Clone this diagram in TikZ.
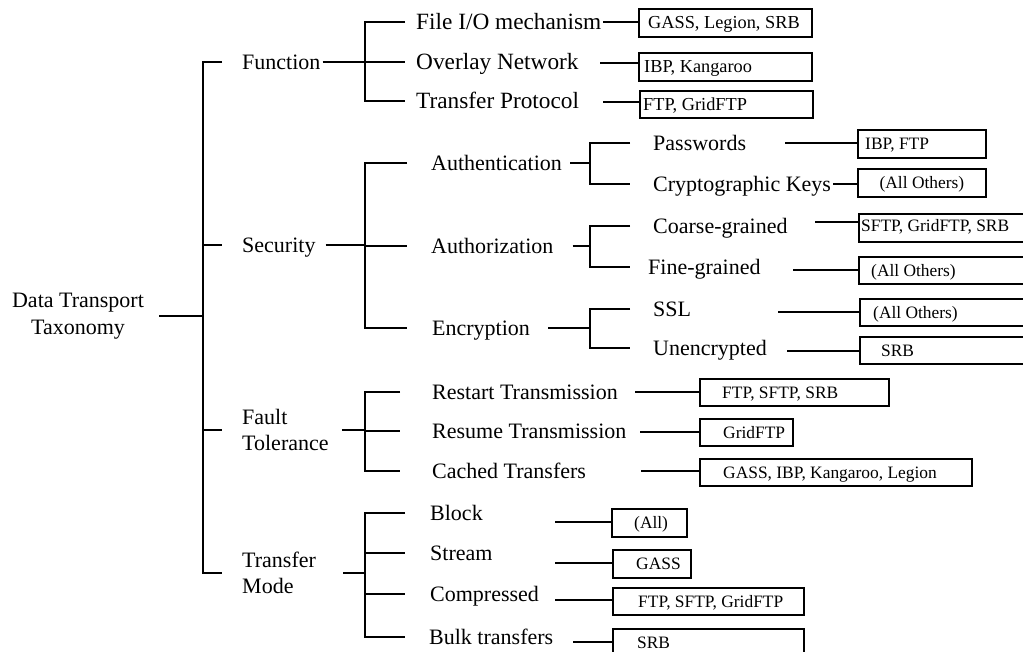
\documentclass[tikz,border=0pt]{standalone}
\usepackage{fontspec}
\setmainfont{Liberation Serif}
\begin{document}
\begin{tikzpicture}[x=1pt,y=-1pt,
  lbl/.style={inner sep=0pt, anchor=west, font=\fontsize{22}{26}\selectfont, text height=14.6pt, text depth=0pt},
  lblbig/.style={lbl, font=\fontsize{23.3}{27}\selectfont, text height=15.4pt},
  lbltwo/.style={inner sep=0pt, font=\fontsize{22}{26.5}\selectfont},
  bx/.style={draw, line width=1.8pt, inner sep=0pt, anchor=north west},
  bt/.style={inner sep=0pt, anchor=west, font=\fontsize{17.4}{20}\selectfont, text height=11.5pt, text depth=0pt},
  btbig/.style={bt, font=\fontsize{18.3}{21}\selectfont, text height=12pt},
  br/.style={line width=1.8pt},
  leaf/.style={line width=1.4pt},
]
\useasboundingbox (0,0) rectangle (1023,652);
\fill[white] (0,0) rectangle (1023,652);
\clip (0,0) rectangle (1023,652);

% ---- root and first level
\node[lbltwo, align=center] (root) at (78,316) {Data Transport\\Taxonomy};
\node[lbl] (function) at (242,62) {Function};
\node[lbl] (security) at (242,245) {Security};
\node[lbltwo, align=left, anchor=west] (fault) at (242,430) {Fault\\Tolerance};
\node[lbltwo, align=left, anchor=west] (mode) at (242,573) {Transfer\\Mode};

% ---- second level
\node[lblbig] (fio) at (416,22) {File I/O mechanism};
\node[lblbig] (overlay) at (416,62) {Overlay Network};
\node[lblbig] (tproto) at (416,101) {Transfer Protocol};
\node[lbl] (authn) at (431,163) {Authentication};
\node[lbl] (authz) at (431,246) {Authorization};
\node[lbl] (encr) at (432,328) {Encryption};
\node[lbl] (restart) at (432,392) {Restart Transmission};
\node[lbl] (resume) at (432,431) {Resume Transmission};
\node[lbl] (cached) at (432,471) {Cached Transfers};
\node[lbl] (block) at (430,513) {Block};
\node[lbl] (stream) at (430,553) {Stream};
\node[lbl] (compr) at (430,594) {Compressed};
\node[lbl] (bulk) at (429,637) {Bulk transfers};

% ---- third level
\node[lbl] (pw) at (653,143) {Passwords};
\node[lbl] (crypto) at (653,184) {Cryptographic Keys};
\node[lbl] (coarse) at (653,226) {Coarse-grained};
\node[lbl] (fine) at (648,267) {Fine-grained};
\node[lbl] (ssl) at (653,309) {SSL};
\node[lbl] (unenc) at (653,348) {Unencrypted};

% ---- boxes listing the systems
\node[bx, minimum width=173pt, minimum height=28pt] (b-fio) at (638,8) {};
\node[bx, minimum width=173pt, minimum height=28pt] (b-overlay) at (638,52) {};
\node[bx, minimum width=173pt, minimum height=27pt] (b-tproto) at (639,90) {};
\node[bx, minimum width=128pt, minimum height=28pt] (b-pw) at (857,129) {};
\node[bx, minimum width=128pt, minimum height=28pt] (b-crypto) at (857,168) {};
\node[bx, minimum width=200pt, minimum height=28pt] (b-coarse) at (858,213) {};
\node[bx, minimum width=200pt, minimum height=27pt] (b-fine) at (858,256) {};
\node[bx, minimum width=200pt, minimum height=27pt] (b-ssl) at (859,298) {};
\node[bx, minimum width=200pt, minimum height=27pt] (b-unenc) at (859,336) {};
\node[bx, minimum width=189pt, minimum height=27pt] (b-restart) at (699,378) {};
\node[bx, minimum width=93pt, minimum height=27pt] (b-resume) at (699,418) {};
\node[bx, minimum width=272pt, minimum height=27pt] (b-cached) at (699,458) {};
\node[bx, minimum width=75pt, minimum height=28pt] (b-block) at (611,508) {};
\node[bx, minimum width=78pt, minimum height=28pt] (b-stream) at (612,549) {};
\node[bx, minimum width=191pt, minimum height=27pt] (b-compr) at (612,587) {};
\node[bx, minimum width=191pt, minimum height=40pt] (b-bulk) at (612,628) {};

\node[btbig] (t-fio) at ([xshift=10pt]b-fio.west) {GASS, Legion, SRB};
\node[btbig] (t-overlay) at ([xshift=6pt]b-overlay.west) {IBP, Kangaroo};
\node[btbig] (t-tproto) at ([xshift=4pt]b-tproto.west) {FTP, GridFTP};
\node[bt] (t-pw) at ([xshift=8pt]b-pw.west) {IBP, FTP};
\node[bt, anchor=center] (t-crypto) at (b-crypto.center) {(All Others)};
\node[bt] (t-coarse) at ([xshift=3pt,yshift=2pt]b-coarse.west) {SFTP, GridFTP, SRB};
\node[bt] (t-fine) at ([xshift=13pt]b-fine.west) {(All Others)};
\node[bt] (t-ssl) at ([xshift=14pt]b-ssl.west) {(All Others)};
\node[bt] (t-unenc) at ([xshift=22pt]b-unenc.west) {SRB};
\node[bt] (t-restart) at ([xshift=23pt]b-restart.west) {FTP, SFTP, SRB};
\node[bt] (t-resume) at ([xshift=24pt]b-resume.west) {GridFTP};
\node[bt] (t-cached) at ([xshift=24pt]b-cached.west) {GASS, IBP, Kangaroo, Legion};
\node[bt] (t-block) at ([xshift=23pt]b-block.west) {(All)};
\node[bt] (t-stream) at ([xshift=24pt]b-stream.west) {GASS};
\node[bt] (t-compr) at ([xshift=26pt]b-compr.west) {FTP, SFTP, GridFTP};
\node[bt] (t-bulk) at ([xshift=25pt]b-bulk.north west) [yshift=-15pt] {SRB};

% ---- bracket spines
\coordinate (s0) at (203,0);
\coordinate (s1) at (365,0);
\coordinate (s2) at (590,0);

% root to the four main categories
\draw[br] ([xshift=15pt]root.east) -- (s0 |- root.east);
\draw[br] ([xshift=-20pt]function.west) -- (s0 |- function.west)
          -- (s0 |- mode.west) -- ([xshift=-20pt]mode.west);
\draw[br] (s0 |- security.west) -- ([xshift=-20pt]security.west);
\draw[br] (s0 |- fault.west) -- ([xshift=-20pt]fault.west);

% Function
\draw[br] ([xshift=2pt]function.east) -- (s1 |- function.east);
\draw[br] ([xshift=-11pt]fio.west) -- (s1 |- fio.west) -- (s1 |- tproto.west) -- ([xshift=-11pt]tproto.west);
\draw[br] (s1 |- overlay.west) -- ([xshift=-11pt]overlay.west);

% Security
\draw[br] ([xshift=10pt]security.east) -- (s1 |- security.east);
\draw[br] ([xshift=-24pt]authn.west) -- (s1 |- authn.west) -- (s1 |- encr.west) -- ([xshift=-25pt]encr.west);
\draw[br] (s1 |- authz.west) -- ([xshift=-24pt]authz.west);

% Fault tolerance
\draw[br] ([xshift=13pt]fault.east) -- (s1 |- fault.east);
\draw[br] ([xshift=-32pt]restart.west) -- (s1 |- restart.west) -- (s1 |- cached.west) -- ([xshift=-32pt]cached.west);
\draw[br] (s1 |- resume.west) -- ([xshift=-32pt]resume.west);

% Transfer mode
\draw[br] ([xshift=27pt]mode.east) -- (s1 |- mode.east);
\draw[br] ([xshift=-25pt]block.west) -- (s1 |- block.west) -- (s1 |- bulk.west) -- ([xshift=-24pt]bulk.west);
\draw[br] (s1 |- stream.west) -- ([xshift=-25pt]stream.west);
\draw[br] (s1 |- compr.west) -- ([xshift=-25pt]compr.west);

% Authentication / Authorization / Encryption
\draw[br] ([xshift=8pt]authn.east) -- (s2 |- authn.east);
\draw[br] ([xshift=-23pt]pw.west) -- (s2 |- pw.west) -- (s2 |- crypto.west) -- ([xshift=-23pt]crypto.west);
\draw[br] ([xshift=19pt]authz.east) -- (s2 |- authz.east);
\draw[br] ([xshift=-23pt]coarse.west) -- (s2 |- coarse.west) -- (s2 |- fine.west) -- ([xshift=-18pt]fine.west);
\draw[br] ([xshift=18pt]encr.east) -- (s2 |- encr.east);
\draw[br] ([xshift=-23pt]ssl.west) -- (s2 |- ssl.west) -- (s2 |- unenc.west) -- ([xshift=-23pt]unenc.west);

% ---- leaf connectors into the boxes
\coordinate (o-fio) at (603,22);
\coordinate (o-overlay) at (600,63);
\coordinate (o-tproto) at (603,102);
\coordinate (o-pw) at (785,143);
\coordinate (o-crypto) at (833,184);
\coordinate (o-coarse) at (815,222);
\coordinate (o-fine) at (793,270);
\coordinate (o-ssl) at (778,312);
\coordinate (o-unenc) at (787,351);
\coordinate (o-restart) at (635,392);
\coordinate (o-resume) at (640,432);
\coordinate (o-cached) at (641,471);
\coordinate (o-block) at (555,522);
\coordinate (o-stream) at (555,563);
\coordinate (o-compr) at (555,600);
\coordinate (o-bulk) at (573,642);
\foreach \k in {fio,overlay,tproto,pw,crypto,coarse,fine,ssl,unenc,restart,resume,cached,block,stream,compr,bulk}
  \draw[leaf] (o-\k) -- (o-\k -| b-\k.west);
\end{tikzpicture}
\end{document}
